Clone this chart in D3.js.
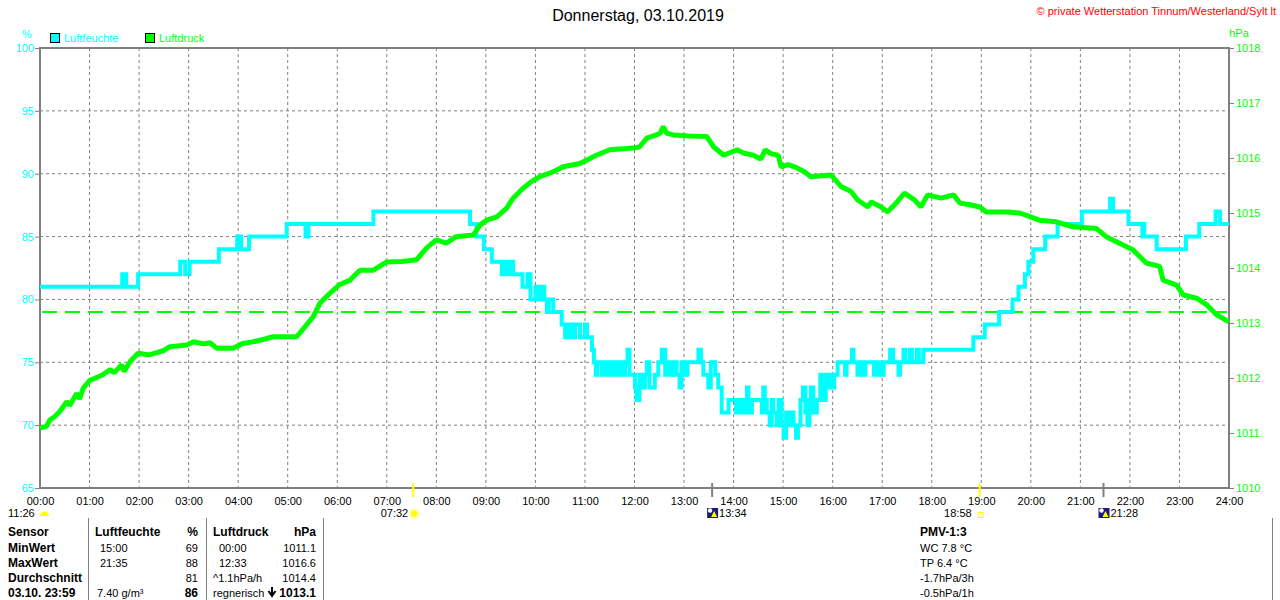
<!DOCTYPE html>
<meta charset="utf-8">
<script src="https://d3js.org/d3.v7.min.js"></script>
<style>
  body { margin: 0; background: #fff; }
  svg { display: block; font-family: "Liberation Sans", Arial, sans-serif; }
</style>
<body>
<div id="chart"></div>
<script>

// tick values
var hourTicks = d3.range(0, 25);
var humTicks = [65, 70, 75, 80, 85, 90, 95, 100];
var presTicks = [1010, 1011, 1012, 1013, 1014, 1015, 1016, 1017, 1018];

// Luftfeuchte [hour, %] (step values)
var humidity = [
  [0,81],[1.66,82],[1.74,81],[1.98,82],[2.83,83],[2.93,82],[3.02,83],[3.61,84],[3.98,85],[4.06,84],
  [4.22,85],[4.98,86],[5.36,85],[5.42,86],[6.73,87],[8.68,86],[8.81,85],[8.96,84],[9.12,83],[9.32,82],
  [9.38,83],[9.44,82],[9.5,83],[9.55,82],[9.74,81],[9.84,82],[9.9,80],[10.0,81],[10.05,80],[10.12,81],
  [10.18,80],[10.23,79],[10.27,80],[10.36,79],[10.53,78],[10.6,77],[10.66,78],[10.72,77],[10.8,78],[10.9,77],
  [11.0,78],[11.04,77],[11.14,76],[11.18,75],[11.22,74],[11.25,75],[11.34,74],[11.4,75],[11.47,74],[11.52,75],
  [11.57,74],[11.61,75],[11.67,74],[11.71,75],[11.76,74],[11.81,75],[11.86,76],[11.9,74],[12.01,73],[12.04,72],
  [12.1,74],[12.15,73],[12.21,74],[12.25,75],[12.3,73],[12.41,74],[12.48,75],[12.55,76],[12.62,74],[12.66,75],
  [12.72,74],[12.77,75],[12.85,74],[12.91,73],[12.95,75],[13.02,74],[13.07,75],[13.29,76],[13.34,75],[13.39,74],
  [13.49,73],[13.54,75],[13.63,74],[13.69,73],[13.76,71],[13.9,72],[14.05,71],[14.1,72],[14.17,71],[14.24,72],
  [14.27,73],[14.3,71],[14.37,72],[14.57,71],[14.6,73],[14.63,72],[14.67,71],[14.73,70],[14.77,72],[14.8,71],
  [14.87,70],[14.91,72],[14.97,70],[15.01,69],[15.06,71],[15.11,70],[15.16,71],[15.21,70],[15.26,69],[15.3,70],
  [15.35,72],[15.4,73],[15.45,71],[15.49,70],[15.53,72],[15.56,73],[15.61,71],[15.68,72],[15.75,74],[15.82,72],
  [15.86,73],[15.9,74],[15.95,73],[16.03,74],[16.1,75],[16.25,74],[16.28,75],[16.39,76],[16.42,75],[16.5,74],
  [16.55,75],[16.62,74],[16.66,75],[16.83,74],[16.9,75],[16.96,74],[17.03,75],[17.16,76],[17.22,75],[17.33,74],
  [17.36,75],[17.43,76],[17.47,75],[17.56,76],[17.6,75],[17.7,76],[17.74,75],[17.83,76],[18.84,77],[19.07,78],
  [19.36,79],[19.63,80],[19.75,81],[19.88,82],[19.95,83],[20.05,84],[20.29,85],[20.54,86],[21.03,87],[21.6,88],
  [21.66,87],[21.97,86],[22.25,85],[22.27,86],[22.29,85],[22.54,84],[23.13,85],[23.4,86],[23.73,87],[23.82,86],
  [24,86]
];

// Luftdruck [hour, hPa]
var pressure = [
  [0,1011.09],[0.13,1011.12],[0.2,1011.24],[0.3,1011.3],[0.4,1011.39],[0.54,1011.57],[0.6,1011.5],[0.74,1011.72],
  [0.8,1011.62],[0.87,1011.81],[1.01,1011.96],[1.25,1012.05],[1.41,1012.15],[1.5,1012.1],[1.65,1012.24],[1.7,1012.12],
  [1.82,1012.3],[1.98,1012.45],[2.2,1012.42],[2.36,1012.46],[2.5,1012.5],[2.62,1012.57],[2.96,1012.6],[3.1,1012.66],
  [3.3,1012.62],[3.43,1012.64],[3.57,1012.54],[3.9,1012.54],[4.1,1012.63],[4.31,1012.66],[4.5,1012.7],[4.71,1012.75],
  [5.18,1012.75],[5.32,1012.9],[5.52,1013.12],[5.65,1013.36],[5.85,1013.54],[6.05,1013.7],[6.26,1013.78],[6.39,1013.9],
  [6.46,1013.96],[6.73,1013.96],[7.0,1014.11],[7.3,1014.12],[7.6,1014.15],[7.8,1014.36],[8.0,1014.51],[8.2,1014.45],
  [8.4,1014.57],[8.75,1014.6],[8.88,1014.78],[9.02,1014.87],[9.22,1014.93],[9.42,1015.09],[9.55,1015.27],[9.75,1015.45],
  [9.92,1015.57],[10.09,1015.66],[10.36,1015.75],[10.56,1015.84],[10.9,1015.9],[11.23,1016.05],[11.5,1016.15],[11.97,1016.18],
  [12.1,1016.2],[12.25,1016.36],[12.44,1016.42],[12.52,1016.45],[12.58,1016.57],[12.65,1016.45],[12.79,1016.42],[13.1,1016.4],
  [13.46,1016.39],[13.6,1016.2],[13.8,1016.05],[14.07,1016.15],[14.2,1016.09],[14.4,1016.05],[14.55,1015.98],[14.64,1016.15],
  [14.75,1016.08],[14.9,1016.05],[14.96,1015.84],[15.1,1015.88],[15.23,1015.84],[15.43,1015.75],[15.56,1015.66],[15.97,1015.69],
  [16.17,1015.48],[16.37,1015.39],[16.5,1015.24],[16.71,1015.11],[16.78,1015.2],[16.98,1015.11],[17.11,1015.02],[17.31,1015.21],
  [17.45,1015.36],[17.65,1015.24],[17.78,1015.11],[17.92,1015.33],[18.19,1015.27],[18.44,1015.33],[18.57,1015.18],[18.77,1015.15],
  [18.97,1015.11],[19.1,1015.02],[19.5,1015.02],[19.77,1015.0],[19.9,1014.96],[20.17,1014.87],[20.51,1014.84],[20.85,1014.75],
  [21.32,1014.72],[21.52,1014.57],[21.79,1014.45],[22.06,1014.33],[22.33,1014.09],[22.6,1014.03],[22.67,1013.78],[22.94,1013.69],
  [23.08,1013.51],[23.35,1013.45],[23.55,1013.33],[23.75,1013.15],[24,1013.02]
];

var refPressure = 1013.2;

// sun / moon events [hour, label, kind]
var events = [
  [7 + 32/60, "07:32", "sunrise"],
  [13 + 34/60, "13:34", "moonrise"],
  [18 + 58/60, "18:58", "sunset"],
  [21 + 28/60, "21:28", "moonset"]
];

// table below the chart
var tableRows = [
  ["Sensor", "Luftfeuchte", "%", "Luftdruck", "hPa"],
  ["MinWert", "15:00", "69", "00:00", "1011.1"],
  ["MaxWert", "21:35", "88", "12:33", "1016.6"],
  ["Durchschnitt", "", "81", "^1.1hPa/h", "1014.4"],
  ["03.10.  23:59", "7.40 g/m³", "86", "regnerisch", "1013.1"]
];
var pmvRows = ["PMV-1:3", "WC 7.8 °C", "TP 6.4 °C", "-1.7hPa/3h", "-0.5hPa/1h"];

var W = 1280, H = 600;
var plotL = 40, plotR = 1229, plotT = 48, plotB = 488;
var cyan = "#00ffff", green = "#00ff00", gray = "#808080";

var svg = d3.select("#chart").append("svg")
  .attr("width", W).attr("height", H);

var x = d3.scaleLinear().domain([0, 24]).range([plotL, plotR]);
var yH = d3.scaleLinear().domain([65, 100]).range([plotB, plotT]);
var yP = d3.scaleLinear().domain([1010, 1018]).range([plotB, plotT]);

// grid
svg.append("g").selectAll("line")
  .data(hourTicks.slice(1, -1))
  .enter().append("line")
    .attr("x1", function(d) { return x(d); })
    .attr("x2", function(d) { return x(d); })
    .attr("y1", plotT).attr("y2", plotB)
    .attr("stroke", gray).attr("stroke-dasharray", "3,3");
svg.append("g").selectAll("line")
  .data(humTicks.slice(1, -1))
  .enter().append("line")
    .attr("x1", plotL).attr("x2", plotR)
    .attr("y1", function(d) { return yH(d); })
    .attr("y2", function(d) { return yH(d); })
    .attr("stroke", gray).attr("stroke-dasharray", "3,3");

// reference line
svg.append("line")
  .attr("x1", plotL + 2).attr("x2", plotR - 2)
  .attr("y1", yP(refPressure)).attr("y2", yP(refPressure))
  .attr("stroke", green).attr("stroke-width", 2)
  .attr("stroke-dasharray", "15,8");

// frame
svg.append("rect")
  .attr("x", plotL).attr("y", plotT)
  .attr("width", plotR - plotL).attr("height", plotB - plotT)
  .attr("fill", "none").attr("stroke", gray).attr("stroke-width", 2);

// left axis
var axL = svg.append("g")
  .attr("transform", "translate(" + plotL + ",0)")
  .call(d3.axisLeft(yH).tickValues(humTicks).tickSize(5).tickPadding(1));
axL.select(".domain").remove();
axL.selectAll("line").attr("stroke", gray);
axL.selectAll("text").attr("fill", cyan).style("font-size", "11px")
  .style("font-family", "Liberation Sans, Arial, sans-serif");

// right axis
var axR = svg.append("g")
  .attr("transform", "translate(" + plotR + ",0)")
  .call(d3.axisRight(yP).tickValues(presTicks).tickSize(5).tickPadding(2)
    .tickFormat(d3.format("d")));
axR.select(".domain").remove();
axR.selectAll("line").attr("stroke", gray);
axR.selectAll("text").attr("fill", green).style("font-size", "11px")
  .style("font-family", "Liberation Sans, Arial, sans-serif");

// bottom axis
var axB = svg.append("g")
  .attr("transform", "translate(0," + plotB + ")")
  .call(d3.axisBottom(x).tickValues(hourTicks).tickSize(0).tickPadding(9)
    .tickFormat(function(d) { return (d < 10 ? "0" : "") + d + ":00"; }));
axB.select(".domain").remove();
axB.selectAll("text").attr("fill", "#000").style("font-size", "11px")
  .style("font-family", "Liberation Sans, Arial, sans-serif");

// units
svg.append("text").attr("x", 27).attr("y", 38).attr("text-anchor", "middle")
  .attr("fill", cyan).style("font-size", "11px").text("%");
svg.append("text").attr("x", 1239).attr("y", 37).attr("text-anchor", "middle")
  .attr("fill", green).style("font-size", "11px").text("hPa");

// legend
[["Luftfeuchte", cyan, 50], ["Luftdruck", green, 145]].forEach(function(l) {
  svg.append("rect").attr("x", l[2] + 0.5).attr("y", 33.5).attr("width", 9).attr("height", 9)
    .attr("fill", l[1]).attr("stroke", "#000");
  svg.append("text").attr("x", l[2] + 14).attr("y", 42)
    .attr("fill", l[1]).style("font-size", "11px").text(l[0]);
});

// title
svg.append("text").attr("x", 638).attr("y", 21).attr("text-anchor", "middle")
  .style("font-size", "16px").attr("fill", "#000").text("Donnerstag, 03.10.2019");
svg.append("text").attr("x", 1276).attr("y", 15).attr("text-anchor", "end")
  .style("font-size", "11px").attr("fill", "#ff0000")
  .text("© private Wetterstation Tinnum/Westerland/Sylt lt");

// series
var humLine = d3.line()
  .x(function(d) { return x(d[0]); })
  .y(function(d) { return yH(d[1]); })
  .curve(d3.curveStepAfter);
svg.append("path").datum(humidity)
  .attr("d", humLine)
  .attr("fill", "none").attr("stroke", cyan).attr("stroke-width", 4);

var presLine = d3.line()
  .x(function(d) { return x(d[0]); })
  .y(function(d) { return yP(d[1]); });
svg.append("path").datum(pressure)
  .attr("d", presLine)
  .attr("fill", "none").attr("stroke", green).attr("stroke-width", 5)
  .attr("stroke-linejoin", "bevel");

// moon at 00:00 edge
svg.append("text").attr("x", 8).attr("y", 517).style("font-size", "11px").text("11:26");
svg.append("path")
  .attr("d", "M40,516 A4.5,4.5 0 0 1 49,516 Z").attr("fill", "#ffff00");

// event marks
events.forEach(function(e) {
  var ex = x(e[0]);
  var sun = e[2] == "sunrise" || e[2] == "sunset";
  svg.append("line").attr("x1", ex).attr("x2", ex).attr("y1", 483).attr("y2", 497)
    .attr("stroke", sun ? "#ffff00" : gray).attr("stroke-width", 2);
  if (e[2] == "sunrise") {
    svg.append("text").attr("x", ex - 5).attr("y", 517).attr("text-anchor", "end")
      .style("font-size", "11px").text(e[1]);
    svg.append("circle").attr("cx", ex + 1).attr("cy", 513.5).attr("r", 3.5).attr("fill", "#ffff00");
    svg.append("circle").attr("cx", ex + 1).attr("cy", 513.5).attr("r", 5)
      .attr("fill", "none").attr("stroke", "#ffff00").attr("stroke-width", 0.8)
      .attr("stroke-dasharray", "1.5,1.5");
  } else if (e[2] == "sunset") {
    svg.append("text").attr("x", ex - 8).attr("y", 517).attr("text-anchor", "end")
      .style("font-size", "11px").text(e[1]);
    svg.append("rect").attr("x", ex - 1.5).attr("y", 512.5).attr("width", 5).attr("height", 5)
      .attr("fill", "none").attr("stroke", "#ffff00");
  } else {
    svg.append("rect").attr("x", ex - 5).attr("y", 508).attr("width", 11).attr("height", 10)
      .attr("fill", "#1a1a80");
    svg.append("circle").attr("cx", ex - 2).attr("cy", 510.5).attr("r", 2.2).attr("fill", "#fff");
    svg.append("path")
      .attr("d", "M" + (ex - 1) + ",517 L" + (ex + 2) + ",511 L" + (ex + 5) + ",517 Z")
      .attr("fill", "#ffff00");
    svg.append("text").attr("x", ex + 7).attr("y", 517)
      .style("font-size", "11px").text(e[1]);
  }
});

// table
var rowY = [536, 551.5, 566.5, 581.5, 596.5];
[88, 206, 323, 1272].forEach(function(sx) {
  svg.append("line").attr("x1", sx + 0.5).attr("x2", sx + 0.5).attr("y1", 518).attr("y2", 600)
    .attr("stroke", gray);
});
tableRows.forEach(function(r, i) {
  var head = i == 0, last = i == tableRows.length - 1;
  var t = function(tx, ty, s, bold, anchor) {
    svg.append("text").attr("x", tx).attr("y", ty).attr("text-anchor", anchor || "start")
      .style("font-size", bold ? "12px" : "11px").style("font-weight", bold ? "bold" : "normal")
      .attr("fill", "#000").text(s);
  };
  t(8, rowY[i], r[0], true);
  t(head ? 95 : (last ? 97 : 100), rowY[i], r[1], head);
  t(198, rowY[i], r[2], head || last, "end");
  t(head || i >= 3 ? 213 : 219, rowY[i], r[3], head);
  t(316, rowY[i], r[4], head || last, "end");
});
// trend arrow before last pressure value
svg.append("path")
  .attr("d", "M272,587 L272,594 M268.5,591 L272,596 L275.5,591")
  .attr("fill", "none").attr("stroke", "#000").attr("stroke-width", 2);

pmvRows.forEach(function(s, i) {
  svg.append("text").attr("x", 920).attr("y", rowY[i])
    .style("font-size", i == 0 ? "12px" : "11px").style("font-weight", i == 0 ? "bold" : "normal")
    .attr("fill", "#000").text(s);
});

</script>
</body>
